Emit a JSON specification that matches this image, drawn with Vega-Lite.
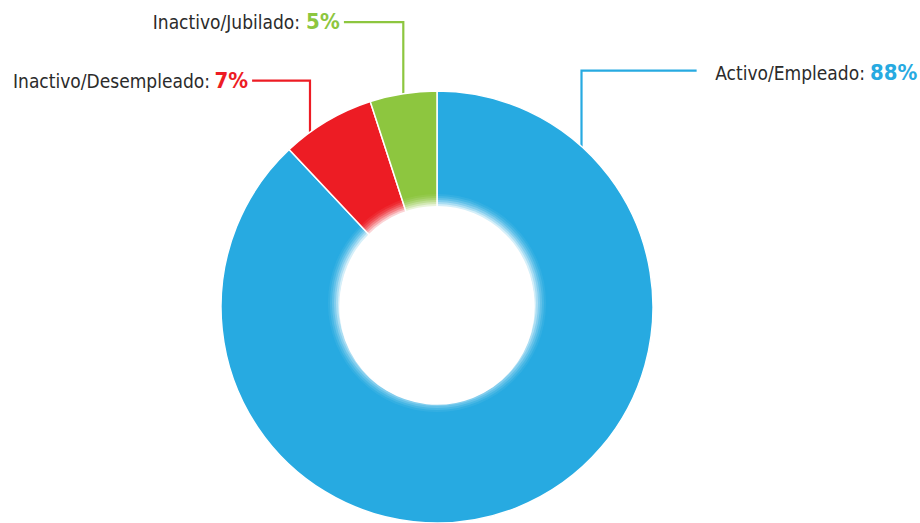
{
  "$schema": "https://vega.github.io/schema/vega-lite/v6.json",
  "width": 432,
  "height": 432,
  "autosize": {"type": "none"},
  "padding": {"left": 221, "top": 91, "right": 267, "bottom": 0},
  "background": "white",
  "config": {"view": {"stroke": null}},
  "datasets": {
    "slices": [
      {"estado": "Activo/Empleado", "pct": 88, "orden": 1},
      {"estado": "Inactivo/Desempleado", "pct": 7, "orden": 2},
      {"estado": "Inactivo/Jubilado", "pct": 5, "orden": 3}
    ],
    "lines": [
      {"estado": "Activo/Empleado", "k": 1, "ux": 0.669, "uy": 0.72},
      {"estado": "Activo/Empleado", "k": 2, "ux": 0.669, "uy": 1.094},
      {"estado": "Activo/Empleado", "k": 3, "ux": 1.202, "uy": 1.094},
      {"estado": "Inactivo/Desempleado", "k": 1, "ux": -0.588, "uy": 0.78},
      {"estado": "Inactivo/Desempleado", "k": 2, "ux": -0.588, "uy": 1.048},
      {"estado": "Inactivo/Desempleado", "k": 3, "ux": -0.856, "uy": 1.048},
      {"estado": "Inactivo/Jubilado", "k": 1, "ux": -0.156, "uy": 0.97},
      {"estado": "Inactivo/Jubilado", "k": 2, "ux": -0.156, "uy": 1.319},
      {"estado": "Inactivo/Jubilado", "k": 3, "ux": -0.431, "uy": 1.319}
    ],
    "labels": [
      {"estado": "Activo/Empleado", "texto": "Activo/Empleado:", "valor": "88%", "lx": 1.981, "px": 2.005, "ly": 1.051},
      {"estado": "Inactivo/Desempleado", "texto": "Inactivo/Desempleado:", "valor": "7%", "lx": -1.051, "px": -1.03, "ly": 1.014},
      {"estado": "Inactivo/Jubilado", "texto": "Inactivo/Jubilado:", "valor": "5%", "lx": -0.634, "px": -0.606, "ly": 1.286}
    ]
  },
  "layer": [
    {
      "data": {"name": "lines"},
      "mark": {"type": "line", "strokeWidth": 2.2},
      "encoding": {
        "x": {"field": "ux", "type": "quantitative", "scale": {"domain": [-1, 1], "nice": false, "zero": false}, "axis": null},
        "y": {"field": "uy", "type": "quantitative", "scale": {"domain": [-1, 1], "nice": false, "zero": false}, "axis": null},
        "order": {"field": "k", "type": "quantitative"},
        "detail": {"field": "estado"},
        "color": {"field": "estado", "type": "nominal", "scale": {"domain": ["Activo/Empleado", "Inactivo/Desempleado", "Inactivo/Jubilado"], "range": ["#27AAE1", "#ED1C24", "#8DC63F"]}, "legend": null}
      }
    },
    {
      "data": {"name": "slices"},
      "mark": {"type": "arc", "innerRadius": 97, "outerRadius": 216, "stroke": "white", "strokeWidth": 1.5},
      "encoding": {
        "theta": {"field": "pct", "type": "quantitative", "stack": true},
        "order": {"field": "orden", "type": "quantitative"},
        "color": {"field": "estado", "type": "nominal", "legend": null}
      }
    },
    {
      "data": {"values": [{"anillo": 1}]},
      "mark": {"type": "arc", "theta": 0, "theta2": 6.2832, "innerRadius": 0, "outerRadius": 109, "fill": "white", "opacity": 0.06, "yOffset": -4},
      "encoding": {}
    },
    {
      "data": {"values": [{"anillo": 1}]},
      "mark": {"type": "arc", "theta": 0, "theta2": 6.2832, "innerRadius": 0, "outerRadius": 107, "fill": "white", "opacity": 0.1, "yOffset": -4},
      "encoding": {}
    },
    {
      "data": {"values": [{"anillo": 1}]},
      "mark": {"type": "arc", "theta": 0, "theta2": 6.2832, "innerRadius": 0, "outerRadius": 105, "fill": "white", "opacity": 0.15, "yOffset": -4},
      "encoding": {}
    },
    {
      "data": {"values": [{"anillo": 1}]},
      "mark": {"type": "arc", "theta": 0, "theta2": 6.2832, "innerRadius": 0, "outerRadius": 103, "fill": "white", "opacity": 0.22, "yOffset": -4},
      "encoding": {}
    },
    {
      "data": {"values": [{"anillo": 1}]},
      "mark": {"type": "arc", "theta": 0, "theta2": 6.2832, "innerRadius": 0, "outerRadius": 101, "fill": "white", "opacity": 0.32, "yOffset": -4},
      "encoding": {}
    },
    {
      "data": {"values": [{"anillo": 1}]},
      "mark": {"type": "arc", "theta": 0, "theta2": 6.2832, "innerRadius": 0, "outerRadius": 99, "fill": "white", "opacity": 0.5, "yOffset": -4},
      "encoding": {}
    },
    {
      "data": {"values": [{"anillo": 1}]},
      "mark": {"type": "arc", "theta": 0, "theta2": 6.2832, "innerRadius": 0, "outerRadius": 97, "fill": "white", "opacity": 1, "yOffset": -4},
      "encoding": {}
    },
    {
      "data": {"name": "labels"},
      "mark": {"type": "text", "align": "right", "baseline": "alphabetic", "font": "DejaVu Sans Condensed, Roboto, sans-serif", "fontSize": 19, "color": "#2b2b2b"},
      "encoding": {
        "x": {"field": "lx", "type": "quantitative"},
        "y": {"field": "ly", "type": "quantitative"},
        "text": {"field": "texto"}
      }
    },
    {
      "data": {"name": "labels"},
      "mark": {"type": "text", "align": "left", "baseline": "alphabetic", "font": "DejaVu Sans Condensed, Roboto, sans-serif", "fontWeight": "bold", "fontSize": 22},
      "encoding": {
        "x": {"field": "px", "type": "quantitative"},
        "y": {"field": "ly", "type": "quantitative"},
        "text": {"field": "valor"},
        "color": {"field": "estado", "type": "nominal", "legend": null}
      }
    }
  ]
}
